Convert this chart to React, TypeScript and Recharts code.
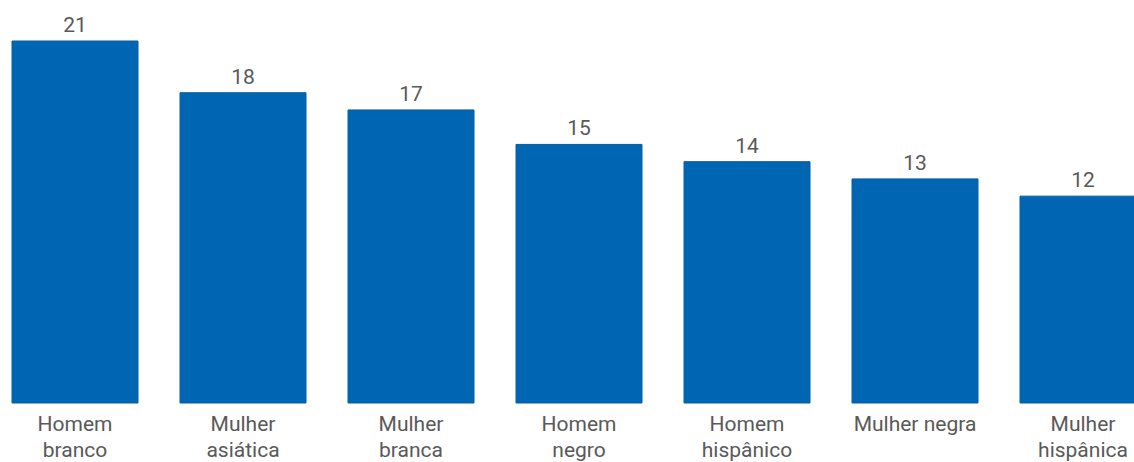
import React from "react";
import { BarChart, Bar, XAxis, YAxis, LabelList } from "recharts";

const categories = [
  "Homem\nbranco",
  "Mulher\nasiática",
  "Mulher\nbranca",
  "Homem\nnegro",
  "Homem\nhispânico",
  "Mulher negra",
  "Mulher\nhispânica",
];
const values = [21, 18, 17, 15, 14, 13, 12];

const data = categories.map((c, i) => ({ name: c, value: values[i] }));

const TEXT = "#595959";
const FONT = "Roboto, 'Liberation Sans', Arial, sans-serif";

const Tick = (props: any) => {
  const { x, y, payload } = props;
  const lines = String(payload.value).split("\n");
  return (
    <text x={x} y={y} textAnchor="middle" fill={TEXT} fontSize={21} fontFamily={FONT}>
      {lines.map((l, i) => (
        <tspan key={i} x={x} dy={i === 0 ? 28 : 26}>
          {l}
        </tspan>
      ))}
    </text>
  );
};

export default function App() {
  return (
    <div
      style={{
        position: "fixed",
        left: 0,
        top: 0,
        width: 1134,
        height: 462,
        overflow: "hidden",
        background: "#fff",
      }}
    >
      <div style={{ position: "absolute", left: -9.5, top: 0 }}>
        <BarChart
          width={1176}
          height={462}
          data={data}
          margin={{ top: 41, right: 0, bottom: 0, left: 0 }}
          barCategoryGap="12.5%"
        >
          <XAxis
            dataKey="name"
            axisLine={false}
            tickLine={false}
            tickSize={0}
            tickMargin={0}
            height={59}
            interval={0}
            tick={<Tick />}
          />
          <YAxis hide domain={[0, 21]} />
          <Bar dataKey="value" fill="#0066b3" stroke="#0a5c9e" strokeWidth={1} isAnimationActive={false}>
            <LabelList
              dataKey="value"
              position="top"
              offset={9}
              fill={TEXT}
              fontSize={21}
              fontFamily={FONT}
            />
          </Bar>
        </BarChart>
      </div>
    </div>
  );
}
